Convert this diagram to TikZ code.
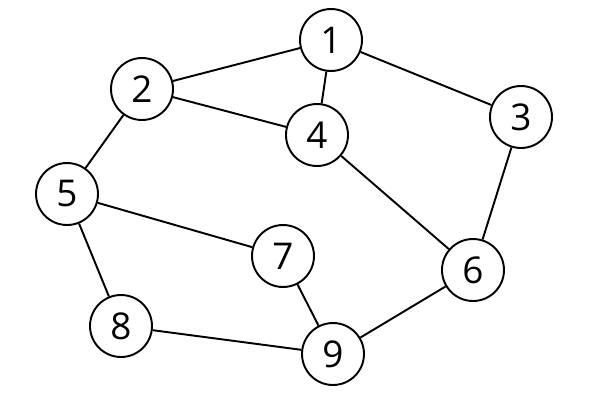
\documentclass[tikz,border=0pt]{standalone}
\usepackage{fontspec}
\setmainfont{Open Sans}
\begin{document}
\begin{tikzpicture}[x=0.02cm,y=-0.02cm,
  vtx/.style={circle,draw,line width=1.1pt,minimum size=1.24cm,inner sep=0pt,font=\fontsize{21}{24}\selectfont},
  edge/.style={line width=1.1pt}]
\useasboundingbox (0,0) rectangle (600,400);
\node[vtx] (n1) at (331,40) {1};
\node[vtx] (n2) at (142,89) {2};
\node[vtx] (n3) at (521,117) {3};
\node[vtx] (n4) at (317,135) {4};
\node[vtx] (n5) at (67,194) {5};
\node[vtx] (n6) at (473,270) {6};
\node[vtx] (n7) at (283,256) {7};
\node[vtx] (n8) at (121,326) {8};
\node[vtx] (n9) at (333,354) {9};
\foreach \a/\b in {n1/n2,n1/n4,n1/n3,n2/n4,n2/n5,n4/n6,n3/n6,n5/n7,n5/n8,n7/n9,n8/n9,n9/n6}
  \draw[edge] (\a) -- (\b);
\end{tikzpicture}
\end{document}
